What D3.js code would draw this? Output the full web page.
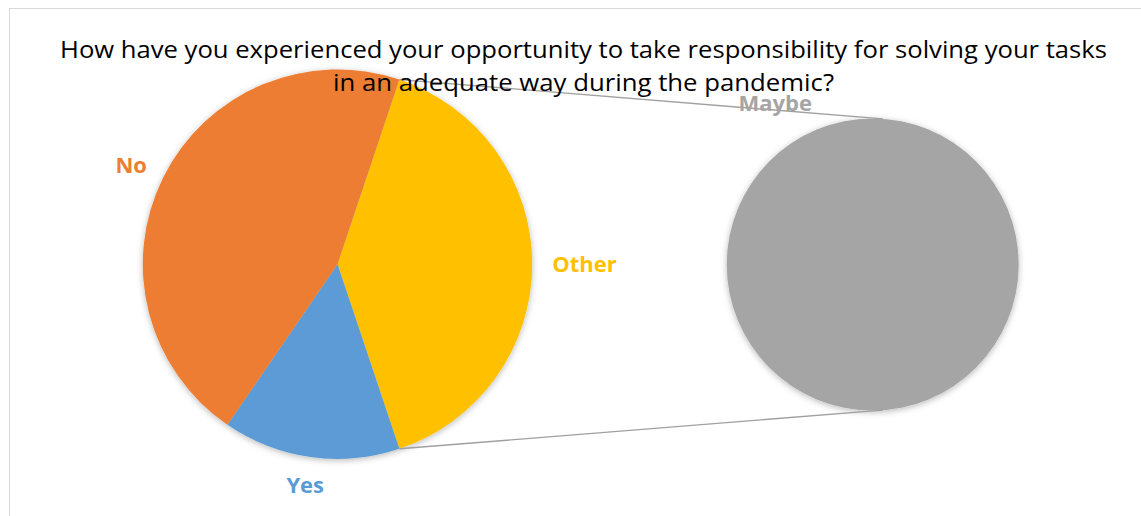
<!DOCTYPE html>
<html>
<head>
<meta charset="utf-8">
<script src="https://cdn.jsdelivr.net/npm/d3@7"></script>
<style>
  html, body { margin: 0; padding: 0; background: #ffffff; }
  svg { display: block; }
</style>
</head>
<body>
<svg id="chart" width="1141" height="516"></svg>
<script>
// Survey answers; "Maybe" is split out into the secondary pie.
const categories = ["No", "Yes", "Maybe"];
const counts = [31, 10, 27];
const secondaryCategories = ["Maybe"];
const colors = ["#ED7D31", "#5B9BD5", "#A5A5A5"];
const otherLabel = "Other";
const otherColor = "#FFC000";
const titleLines = [
  "How have you experienced your opportunity to take responsibility for solving your tasks",
  "in an adequate way during the pandemic?"
];

const svg = d3.select("#chart");
const W = 1141, H = 516;

// Soft outer shadow under both pies
const defs = svg.append("defs");
const shadow = defs.append("filter").attr("id", "pieShadow")
  .attr("x", "-10%").attr("y", "-10%").attr("width", "120%").attr("height", "120%");
shadow.append("feDropShadow")
  .attr("dx", 0).attr("dy", 1.5).attr("stdDeviation", 3)
  .attr("flood-color", "#000").attr("flood-opacity", 0.28);

// Chart area frame
svg.append("rect")
  .attr("x", 9.5).attr("y", 8.5)
  .attr("width", W + 20).attr("height", H + 20)
  .attr("fill", "#ffffff").attr("stroke", "#D9D9D9").attr("stroke-width", 1);

const main = { cx: 337.5, cy: 264.2, r: 194.7 };
const sub = { cx: 872.7, cy: 264.5, r: 146 };

// Primary pie: "Other" (everything shown in the secondary pie), then the rest
const primaryRows = [];
const secondaryRows = [];
categories.forEach((c, i) => {
  const row = { name: c, value: counts[i], color: colors[i] };
  if (secondaryCategories.includes(c)) secondaryRows.push(row); else primaryRows.push(row);
});
const otherRow = { name: otherLabel, value: d3.sum(secondaryRows, d => d.value), color: otherColor };
const total = d3.sum(counts);

// The "Other" slice is centred on the right-hand side (3 o'clock)
const otherSpan = otherRow.value / total * 2 * Math.PI;
const start = Math.PI / 2 - otherSpan / 2;
const primaryPie = d3.pie().sort(null).value(d => d.value)
  .startAngle(start).endAngle(start + 2 * Math.PI);
// Clockwise: Other, then Yes, then No
const primaryOrder = [otherRow, ...primaryRows.slice().reverse()];
const primaryArcs = primaryPie(primaryOrder);

const secondaryPie = d3.pie().sort(null).value(d => d.value);
const secondaryArcs = secondaryPie(secondaryRows);

const arcMain = d3.arc().innerRadius(0).outerRadius(main.r);
const arcSub = d3.arc().innerRadius(0).outerRadius(sub.r);

const gMain = svg.append("g")
  .attr("transform", `translate(${main.cx},${main.cy})`)
  .attr("filter", "url(#pieShadow)");
gMain.selectAll("path").data(primaryArcs).join("path")
  .attr("d", arcMain)
  .attr("fill", d => d.data.color);

const gSub = svg.append("g")
  .attr("transform", `translate(${sub.cx},${sub.cy})`)
  .attr("filter", "url(#pieShadow)");
gSub.selectAll("path").data(secondaryArcs).join("path")
  .attr("d", arcSub)
  .attr("fill", d => d.data.color);

// Connector lines from the edges of the "Other" slice to the secondary pie
const polar = (c, r, a) => [c.cx + r * Math.sin(a), c.cy - r * Math.cos(a)];
const otherArc = primaryArcs[0];
const tilt = 4 * Math.PI / 180;
const connectors = [
  [polar(main, main.r, otherArc.startAngle), polar(sub, sub.r, tilt)],
  [polar(main, main.r, otherArc.endAngle), polar(sub, sub.r, Math.PI - tilt)]
];
svg.append("g").selectAll("line").data(connectors).join("line")
  .attr("x1", d => d[0][0]).attr("y1", d => d[0][1])
  .attr("x2", d => d[1][0]).attr("y2", d => d[1][1])
  .attr("stroke", "#A0A0A0").attr("stroke-width", 1.4);

// Outside-end data labels
const labelFont = "'Open Sans', 'Noto Sans', sans-serif";
const labelSize = 22;
function placeLabel(center, r, angle, gap, name, color) {
  const t = svg.append("text")
    .attr("font-family", labelFont).attr("font-weight", 700)
    .attr("font-size", labelSize).attr("fill", color)
    .attr("text-anchor", "middle").text(name);
  const w = t.node().getComputedTextLength();
  const h = labelSize * 0.72;
  const ux = Math.sin(angle), uy = -Math.cos(angle);
  const bx = center.cx + (r + gap) * ux + ux * w / 2;
  const by = center.cy + (r + gap) * uy + uy * h / 2;
  t.attr("x", bx).attr("y", by + h / 2);
}
primaryArcs.forEach(a => {
  const mid = (a.startAngle + a.endAngle) / 2;
  placeLabel(main, main.r, mid, 20, a.data.name, a.data.color);
});
// The single-slice secondary pie carries its label at the upper left
secondaryArcs.forEach(a => {
  placeLabel(sub, sub.r, 332.5 * Math.PI / 180, 28.5, a.data.name, a.data.color);
});

// Title, drawn over the plot
const titleFont = "'Open Sans', 'Noto Sans', sans-serif";
const titleWidths = [1047, 501];
const titleBaselines = [58, 91];
titleLines.forEach((line, i) => {
  svg.append("text")
    .attr("x", W / 2 + 13).attr("y", titleBaselines[i])
    .attr("text-anchor", "middle")
    .attr("font-family", titleFont).attr("font-size", 23.5)
    .attr("fill", "#000000")
    .attr("textLength", titleWidths[i]).attr("lengthAdjust", "spacingAndGlyphs")
    .text(line);
});
</script>
</body>
</html>
